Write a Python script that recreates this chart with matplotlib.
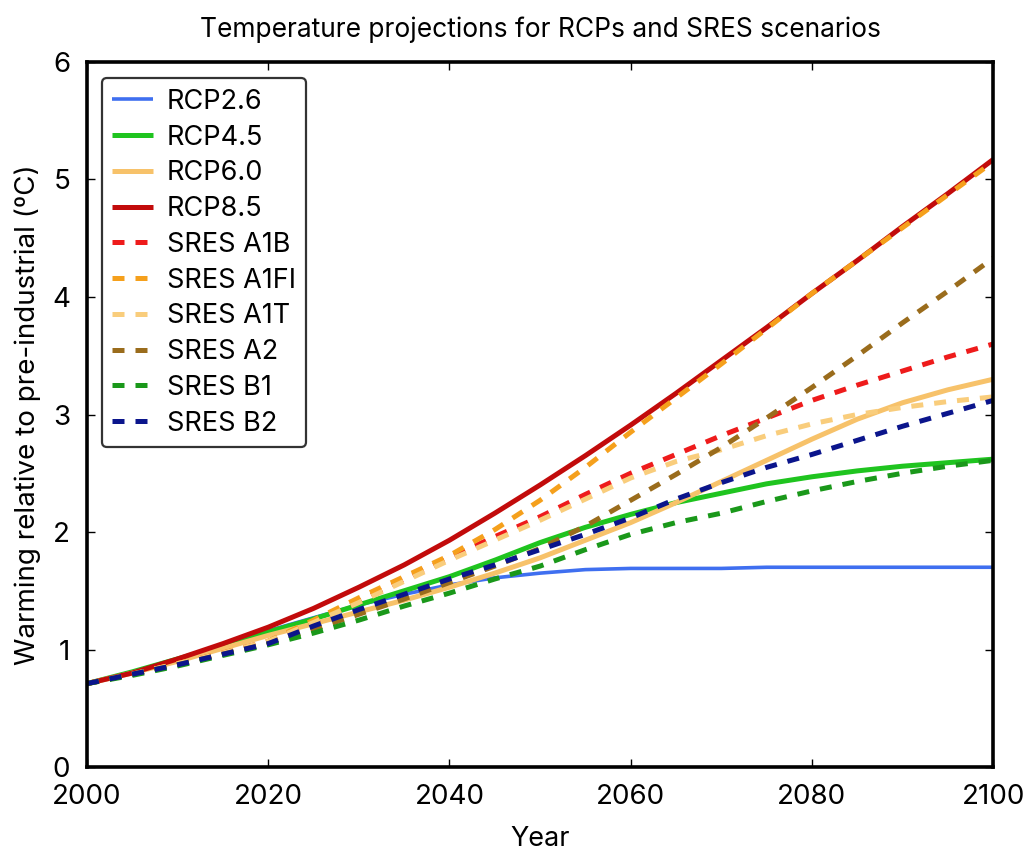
import numpy as np
import matplotlib
matplotlib.use("Agg")
import matplotlib.pyplot as plt

plt.rcParams['font.family'] = ['Inter', 'DejaVu Sans']

years = [2000, 2005, 2010, 2015, 2020, 2025, 2030, 2035, 2040, 2045, 2050,
         2055, 2060, 2065, 2070, 2075, 2080, 2085, 2090, 2095, 2100]

rcp26 = [0.71, 0.81, 0.92, 1.04, 1.16, 1.27, 1.38, 1.47, 1.55, 1.61, 1.65,
         1.68, 1.69, 1.69, 1.69, 1.70, 1.70, 1.70, 1.70, 1.70, 1.70]
rcp45 = [0.71, 0.81, 0.92, 1.03, 1.15, 1.26, 1.38, 1.50, 1.62, 1.76, 1.91,
         2.04, 2.15, 2.25, 2.33, 2.41, 2.47, 2.52, 2.56, 2.59, 2.62]
rcp60 = [0.71, 0.80, 0.90, 1.01, 1.12, 1.22, 1.32, 1.42, 1.53, 1.65, 1.78,
         1.93, 2.08, 2.25, 2.43, 2.61, 2.79, 2.96, 3.10, 3.21, 3.30]
rcp85 = [0.71, 0.80, 0.92, 1.05, 1.19, 1.35, 1.53, 1.72, 1.93, 2.16, 2.40,
         2.65, 2.91, 3.18, 3.46, 3.74, 4.03, 4.31, 4.60, 4.88, 5.17]

a1b = [0.71, 0.79, 0.88, 0.97, 1.07, 1.23, 1.41, 1.60, 1.78, 1.96, 2.13,
       2.32, 2.50, 2.66, 2.82, 2.97, 3.12, 3.25, 3.37, 3.49, 3.60]
a1fi = [0.71, 0.79, 0.88, 0.97, 1.07, 1.25, 1.44, 1.62, 1.80, 2.02, 2.27,
        2.55, 2.85, 3.14, 3.43, 3.73, 4.03, 4.31, 4.59, 4.87, 5.15]
a1t = [0.71, 0.79, 0.88, 0.97, 1.07, 1.23, 1.40, 1.58, 1.76, 1.93, 2.10,
       2.28, 2.46, 2.60, 2.70, 2.82, 2.92, 3.00, 3.06, 3.11, 3.15]
a2 = [0.71, 0.79, 0.87, 0.96, 1.05, 1.17, 1.30, 1.43, 1.57, 1.71, 1.86,
      2.05, 2.27, 2.49, 2.72, 2.97, 3.23, 3.50, 3.78, 4.05, 4.33]
b1 = [0.71, 0.78, 0.86, 0.95, 1.04, 1.14, 1.25, 1.37, 1.48, 1.60, 1.71,
      1.85, 1.98, 2.08, 2.16, 2.26, 2.35, 2.43, 2.50, 2.56, 2.61]
b2 = [0.71, 0.79, 0.87, 0.96, 1.05, 1.20, 1.34, 1.47, 1.60, 1.72, 1.85,
      1.98, 2.12, 2.28, 2.42, 2.55, 2.66, 2.78, 2.90, 3.01, 3.12]

solid_series = [
    ('RCP2.6', rcp26, '#3f6ff0', 2.6),
    ('RCP4.5', rcp45, '#1fc41f', 3.6),
    ('RCP6.0', rcp60, '#f7c26a', 3.6),
    ('RCP8.5', rcp85, '#c20b0b', 3.6),
]
dashed_series = [
    ('SRES A1B', a1b, '#ee1b1b'),
    ('SRES A1FI', a1fi, '#f5a01c'),
    ('SRES A1T', a1t, '#f9cd7c'),
    ('SRES A2', a2, '#9a6c1c'),
    ('SRES B1', b1, '#1a981a'),
    ('SRES B2', b2, '#0b158c'),
]

fig = plt.figure(figsize=(10.25, 8.55), dpi=100)
ax = fig.add_axes([0.0849, 0.1029, 0.884, 0.8246])

for name, vals, col, lw in solid_series:
    ax.plot(years, vals, color=col, lw=lw, label=name, solid_capstyle='butt')
for name, vals, col in dashed_series:
    ax.plot(years, vals, color=col, lw=3.6, label=name, dashes=(2.4, 2.2))

ax.set_xlim(2000, 2100)
ax.set_ylim(0, 6)
ax.set_xticks([2000, 2020, 2040, 2060, 2080, 2100])
ax.set_yticks([0, 1, 2, 3, 4, 5, 6])
ax.tick_params(direction='in', length=6, width=1, top=True, right=True, labelsize=20)
ax.tick_params(axis='x', pad=12)
ax.tick_params(axis='y', pad=12)
for s in ax.spines.values():
    s.set_linewidth(2.6)

ax.set_xlabel('Year', fontsize=19.5, labelpad=12)
ax.set_ylabel('Warming relative to pre-industrial (ºC)', fontsize=20, labelpad=8)
ax.set_title('Temperature projections for RCPs and SRES scenarios', fontsize=19, pad=18)

leg = ax.legend(loc='upper left', fontsize=19.5, handlelength=1.5, handletextpad=0.5,
                labelspacing=0.36, borderpad=0.4, frameon=True, fancybox=True,
                bbox_to_anchor=(0.01, 0.985), borderaxespad=0.2)
leg.get_frame().set_edgecolor('#333333')
leg.get_frame().set_linewidth(1.6)
leg.get_frame().set_alpha(1)

fig.savefig('out.png', dpi=100)
